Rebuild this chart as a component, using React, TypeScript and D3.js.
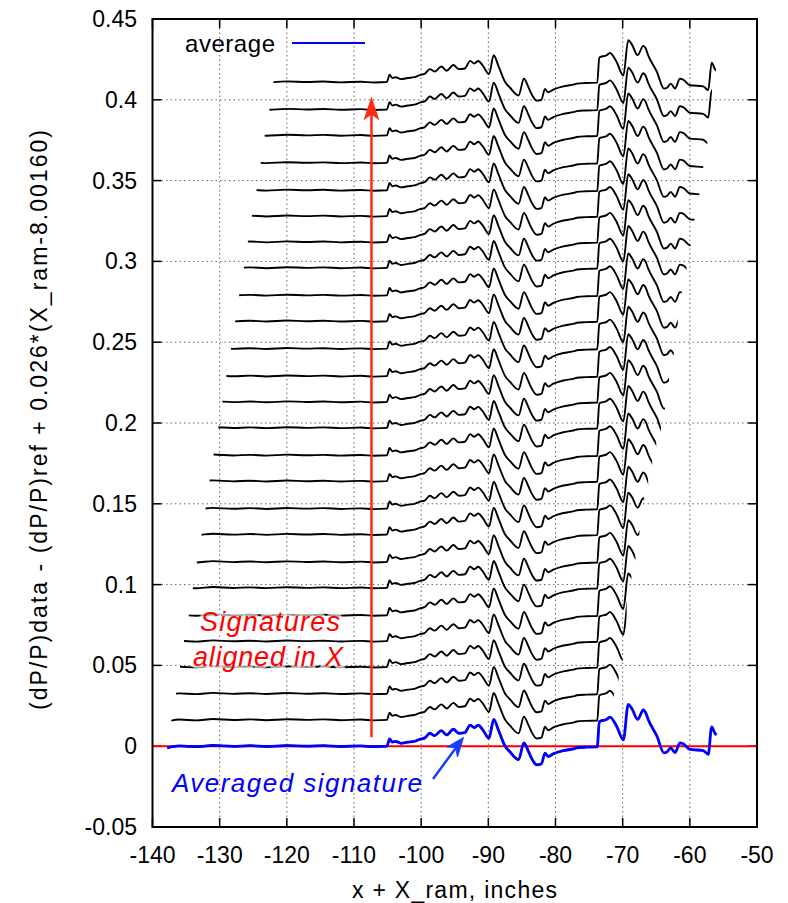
import React from "react";
import * as d3 from "d3";

// ---- axes ----
const xTicks = [-140, -130, -120, -110, -100, -90, -80, -70, -60, -50];
const yTicks = [-0.05, 0, 0.05, 0.1, 0.15, 0.2, 0.25, 0.3, 0.35, 0.4, 0.45];
const yTickLabels = ["-0.05", "0", "0.05", "0.1", "0.15", "0.2", "0.25", "0.3", "0.35", "0.4", "0.45"];

// ---- averaged signature (blue), also the shape of each aligned signature ----
const sigX = [
  -137.8, -136.0, -133.5, -131.0, -128.0, -125.5, -123.0, -120.0,
  -117.0, -114.5, -112.0, -109.0, -107.0, -105.1,
  -104.7, -104.3, -103.8, -103, -102, -101, -100.2, -99.5, -98.7, -98.0, -97.0, -96.2,
  -95.2, -94.4, -93.5, -92.7, -92.1, -91.5, -90.8, -89.9, -89.2, -88.5, -87.5, -86.8,
  -85.5, -84.7, -84.05, -83.6, -82.8, -82.1, -81.57, -81.1, -80.33, -78.84, -77.2, -76.85,
  -75.4, -73.78, -73.48, -72.38, -71.9, -70.9, -69.9, -69.17, -68.6, -67.77, -66.93,
  -66.6, -66.2, -64.9, -63.85, -63.4, -62.85, -62.2, -61.47, -61.0, -59.98, -58.0,
  -57.26, -56.75, -56.26, -56.0,
];
const sigY = [
  -0.0010, 0.0002, -0.0003, 0.0005, -0.0001, 0.0003, -0.0002, 0.0004,
  0.0, 0.0003, -0.0002, 0.0002, -0.0003, 0.0,
  0.0045, 0.0025, 0.003, 0.0018, 0.0025, 0.003, 0.0043, 0.005, 0.008, 0.0065, 0.0096, 0.007,
  0.0105, 0.008, 0.0084, 0.0131, 0.0115, 0.013, 0.01, 0.0049, 0.0166, 0.01, 0.0, -0.0034,
  -0.0083, 0.002, -0.003, -0.0072, -0.0115, -0.011, -0.0043, -0.0064, -0.0047, -0.0027, -0.0015, -0.001,
  -0.0006, -0.0004, 0.0152, 0.0166, 0.018, 0.0124, 0.004, 0.0259, 0.023, 0.0166, 0.0224,
  0.021, 0.0165, 0.0062, -0.0041, -0.0035, -0.001, -0.004, 0.002, 0.0015, -0.002, -0.0027,
  -0.005, 0.012, 0.008, 0.007,
];

// ---- individual signatures: window in X and vertical offset ----
const curveStart = [
  -137.8, -137.2, -136.5, -135.9, -135.3, -134.6, -134.0, -133.4, -132.7, -132.1, -131.5, -130.9, -130.2,
  -129.6, -129.0, -128.3, -127.7, -127.1, -126.4, -125.8, -125.2, -124.5, -123.9, -123.3, -122.6, -122.0,
];
const curveEnd = [
  -71.9, -71.3, -70.6, -70.0, -69.4, -68.7, -68.1, -67.5, -66.8, -66.2, -65.6, -65.0, -64.3,
  -63.7, -63.1, -62.4, -61.8, -61.2, -60.5, -59.9, -59.3, -58.6, -58.0, -57.4, -56.7, -56.1,
];
const curveOffset = [
  0, 0.0163, 0.0325, 0.049, 0.065, 0.081, 0.098, 0.114, 0.131, 0.147, 0.164, 0.18, 0.197,
  0.213, 0.229, 0.246, 0.263, 0.279, 0.296, 0.312, 0.328, 0.344, 0.361, 0.378, 0.394, 0.411,
];

const W = 788;
const H = 903;
const L = 152.5, R = 757, T = 19, B = 827;

export default function App() {
  const x = d3.scaleLinear().domain([-140, -50]).range([L, R]);
  const y = d3.scaleLinear().domain([-0.05, 0.45]).range([B, T]);
  const pts = sigX.map((v, i) => [v, sigY[i]] as [number, number]);
  const lineFor = (off: number) =>
    d3
      .line<[number, number]>()
      .x((d) => x(d[0]))
      .y((d) => y(d[1] + off))
      .curve(d3.curveMonotoneX)(pts) || "";

  const font = "'Liberation Sans', Arial, Helvetica, sans-serif";
  const arrowX = x(-107.4);
  const redArrowTop = y(0.402);

  return (
    <div style={{ position: "absolute", left: 0, top: 0 }}>
      <svg width={W} height={H} style={{ display: "block", background: "#fff" }} fontFamily={font}>
        <defs>
          {curveStart.map((s, i) => (
            <clipPath id={`clip${i}`} key={i}>
              <rect x={x(s)} y={T} width={x(curveEnd[i]) - x(s)} height={B - T} />
            </clipPath>
          ))}
          <clipPath id="plotclip">
            <rect x={L} y={T} width={R - L} height={B - T} />
          </clipPath>
        </defs>

        {/* grid */}
        <g stroke="#666" strokeWidth={1} strokeDasharray="1.5,3">
          {xTicks.slice(1, -1).map((t) => (
            <line key={"gx" + t} x1={x(t)} x2={x(t)} y1={T} y2={B} />
          ))}
          {yTicks.slice(1, -1).map((t) => (
            <line key={"gy" + t} x1={L} x2={R} y1={y(t)} y2={y(t)} />
          ))}
        </g>

        {/* ticks */}
        <g stroke="#000" strokeWidth={1.5}>
          {xTicks.map((t) => (
            <g key={"tx" + t}>
              <line x1={x(t)} x2={x(t)} y1={B} y2={B - 9} />
              <line x1={x(t)} x2={x(t)} y1={T} y2={T + 9} />
            </g>
          ))}
          {yTicks.map((t) => (
            <g key={"ty" + t}>
              <line x1={L} x2={L + 9} y1={y(t)} y2={y(t)} />
              <line x1={R} x2={R - 9} y1={y(t)} y2={y(t)} />
            </g>
          ))}
        </g>

        {/* red zero line */}
        <line x1={L} x2={R} y1={y(0)} y2={y(0)} stroke="#ff0000" strokeWidth={2} />

        {/* signatures */}
        <g fill="none" stroke="#000" strokeWidth={1.9} strokeLinejoin="round">
          {curveOffset.map((off, i) => (
            <path key={i} d={lineFor(off)} clipPath={`url(#clip${i})`} />
          ))}
        </g>

        {/* averaged signature */}
        <path d={lineFor(0)} fill="none" stroke="#0000ff" strokeWidth={2.8} strokeLinejoin="round" clipPath="url(#plotclip)" />

        {/* red arrow */}
        <line x1={arrowX} x2={arrowX} y1={y(0.0055)} y2={redArrowTop + 16} stroke="#ff2a12" strokeWidth={2.5} />
        <path
          d={`M${arrowX},${redArrowTop} L${arrowX - 8},${redArrowTop + 24} L${arrowX},${redArrowTop + 18} L${arrowX + 8},${redArrowTop + 24} Z`}
          fill="#ff2a12"
        />

        {/* red annotation */}
        <g fill="#ff0000" fontStyle="italic" fontSize={27} stroke="#fff" strokeOpacity={0.65} strokeWidth={6} style={{ paintOrder: "stroke" }}>
          <text x={200} y={631} textLength={140} lengthAdjust="spacing">Signatures</text>
          <text x={193} y={666} textLength={150} lengthAdjust="spacing">aligned in X</text>
        </g>

        {/* blue annotation */}
        <text x={172} y={792} fill="#0000ff" fontStyle="italic" fontSize={26} textLength={250} lengthAdjust="spacing">
          Averaged signature
        </text>
        <line x1={433} y1={779} x2={458} y2={745} stroke="#1a3cff" strokeWidth={2.5} />
        <path d="M463.5,737.5 L447,747 L455.5,747.5 L457.5,757 Z" fill="#1a3cff" stroke="#1a3cff" strokeWidth={1} />

        {/* legend */}
        <text x={275} y={52} textAnchor="end" fontSize={24} textLength={90} lengthAdjust="spacing" fill="#000">
          average
        </text>
        <line x1={292} x2={365} y1={43} y2={43} stroke="#0000ff" strokeWidth={2} />

        {/* frame */}
        <rect x={L} y={T} width={R - L} height={B - T} fill="none" stroke="#000" strokeWidth={2} />

        {/* tick labels */}
        <g fontSize={23} fill="#000">
          {xTicks.map((t) => (
            <text key={"lx" + t} x={x(t)} y={863} textAnchor="middle">
              {t}
            </text>
          ))}
          {yTicks.map((t, i) => (
            <text key={"ly" + t} x={137} y={y(t) + 8} textAnchor="end">
              {yTickLabels[i]}
            </text>
          ))}
        </g>

        {/* axis titles */}
        <text x={352} y={898} fontSize={23} textLength={205} lengthAdjust="spacing" fill="#000">
          x + X_ram, inches
        </text>
        <text
          transform={`translate(47,710) rotate(-90)`}
          x={0}
          y={0}
          fontSize={23}
          textLength={580}
          lengthAdjust="spacing"
          fill="#000"
        >
          (dP/P)data - (dP/P)ref + 0.026*(X_ram-8.00160)
        </text>
      </svg>
    </div>
  );
}
